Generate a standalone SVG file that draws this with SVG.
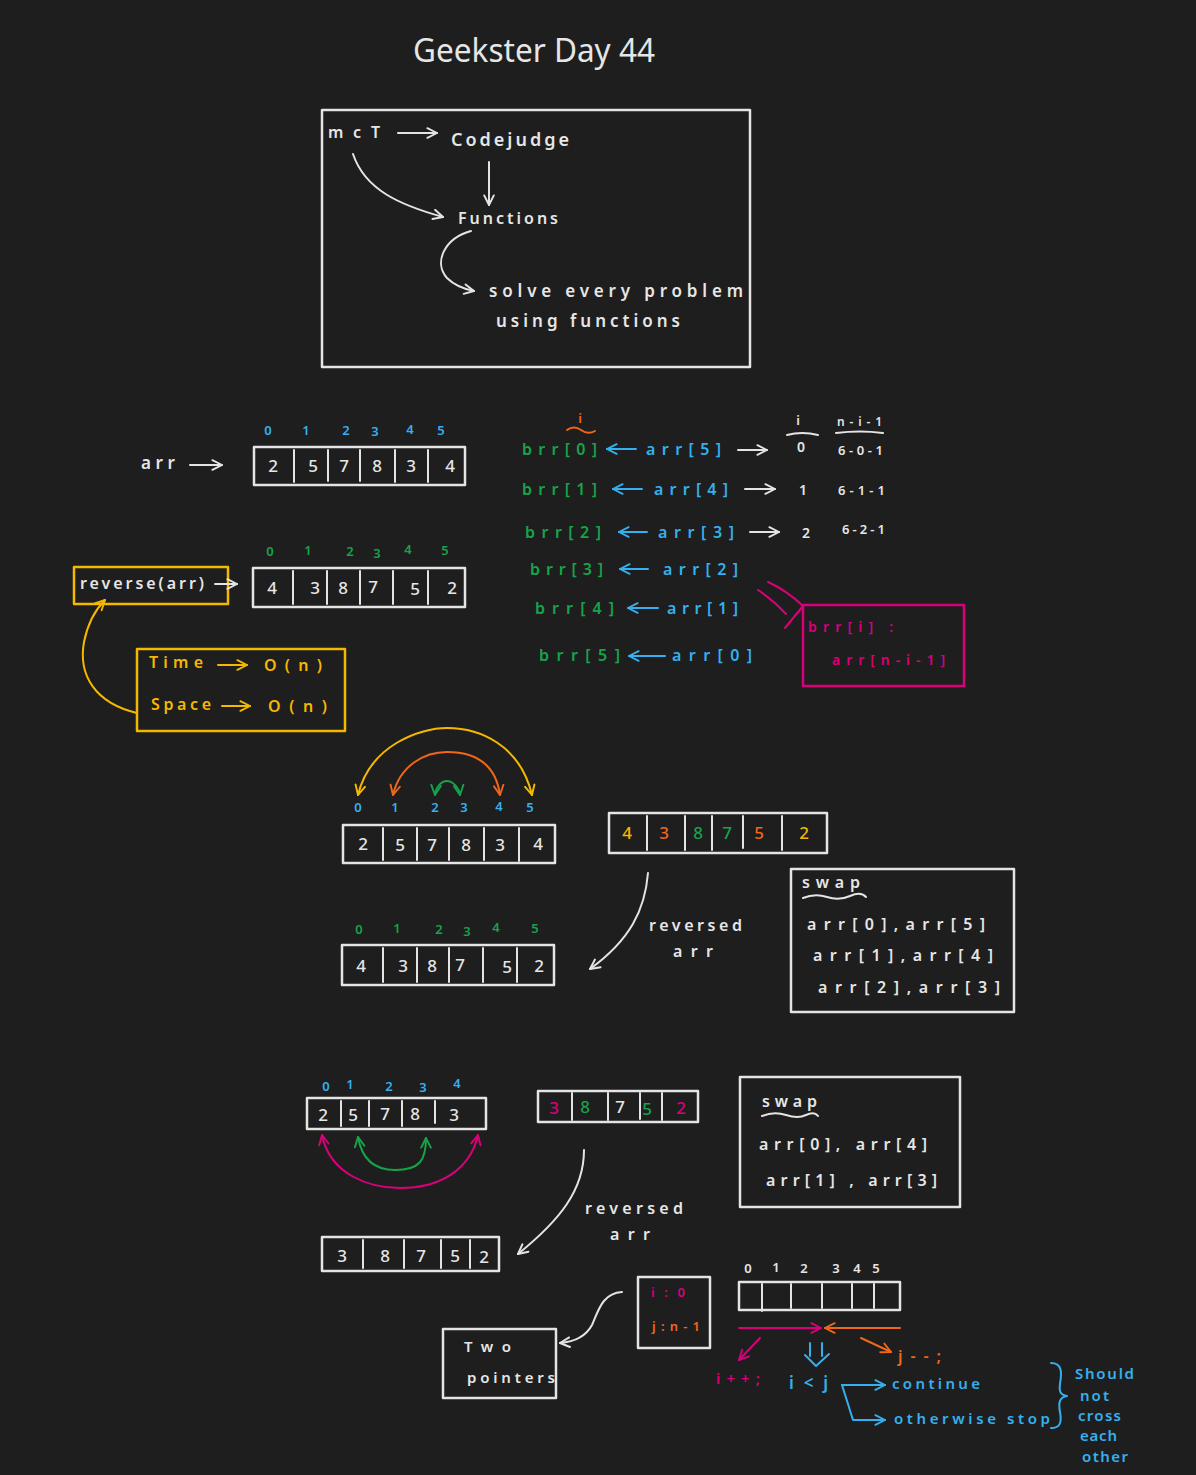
<svg xmlns="http://www.w3.org/2000/svg" width="1196" height="1475" viewBox="0 0 1196 1475">
<style>
  .bg{fill:#1e1e1e}
  .s{fill:none;stroke-width:2;stroke-linecap:round;stroke-linejoin:round}
  .sw{stroke:#e4e4e4}
  .sy{stroke:#f5b800}
  .so{stroke:#f0661a}
  .sg{stroke:#17a34a}
  .sb{stroke:#35b0ee}
  .sm{stroke:#d9007a}
  .box{stroke-width:2.5}
  text{font-family:"Noto Sans","Liberation Sans",sans-serif;font-size:16px;font-weight:600}
  .tw{fill:#e6e6e6}
  .ty{fill:#f5b800}
  .to{fill:#f0661a}
  .tg{fill:#17a34a}
  .tb{fill:#35b0ee}
  .tm{fill:#d9007a}
  .n{font-size:17px;text-anchor:middle;font-weight:500}
  .i{font-size:13px;text-anchor:middle}
  .aw{marker-end:url(#hw)}
  .ay{marker-end:url(#hy)}
  .ao{marker-end:url(#ho)}
  .ag{marker-end:url(#hg)}
  .ab{marker-end:url(#hb)}
  .am{marker-end:url(#hm)}
</style>
<defs>
  <marker id="hw" viewBox="0 0 10 10" refX="9" refY="5" markerWidth="12" markerHeight="12" markerUnits="userSpaceOnUse" orient="auto-start-reverse"><path d="M1,1 L9,5 L1,9" fill="none" stroke="#e4e4e4" stroke-width="1.6" stroke-linecap="round" stroke-linejoin="round"/></marker>
  <marker id="hy" viewBox="0 0 10 10" refX="9" refY="5" markerWidth="12" markerHeight="12" markerUnits="userSpaceOnUse" orient="auto-start-reverse"><path d="M1,1 L9,5 L1,9" fill="none" stroke="#f5b800" stroke-width="1.6" stroke-linecap="round" stroke-linejoin="round"/></marker>
  <marker id="ho" viewBox="0 0 10 10" refX="9" refY="5" markerWidth="12" markerHeight="12" markerUnits="userSpaceOnUse" orient="auto-start-reverse"><path d="M1,1 L9,5 L1,9" fill="none" stroke="#f0661a" stroke-width="1.6" stroke-linecap="round" stroke-linejoin="round"/></marker>
  <marker id="hg" viewBox="0 0 10 10" refX="9" refY="5" markerWidth="12" markerHeight="12" markerUnits="userSpaceOnUse" orient="auto-start-reverse"><path d="M1,1 L9,5 L1,9" fill="none" stroke="#17a34a" stroke-width="1.6" stroke-linecap="round" stroke-linejoin="round"/></marker>
  <marker id="hb" viewBox="0 0 10 10" refX="9" refY="5" markerWidth="12" markerHeight="12" markerUnits="userSpaceOnUse" orient="auto-start-reverse"><path d="M1,1 L9,5 L1,9" fill="none" stroke="#35b0ee" stroke-width="1.6" stroke-linecap="round" stroke-linejoin="round"/></marker>
  <marker id="hm" viewBox="0 0 10 10" refX="9" refY="5" markerWidth="12" markerHeight="12" markerUnits="userSpaceOnUse" orient="auto-start-reverse"><path d="M1,1 L9,5 L1,9" fill="none" stroke="#d9007a" stroke-width="1.6" stroke-linecap="round" stroke-linejoin="round"/></marker>
</defs>

<rect class="bg" x="0" y="0" width="1196" height="1475"/>

<!-- heading -->
<g id="title">
  <text class="tw" x="413" y="62" style="font-size:32px;font-weight:400" textLength="242" lengthAdjust="spacingAndGlyphs">Geekster Day 44</text>
</g>

<!-- overview box: MCT / Codejudge / functions -->
<g id="overview">
  <rect class="s sw box" x="322" y="110" width="428" height="257"/>
  <text class="tw" x="328" y="138" textLength="52">mcT</text>
  <text class="tw" x="451" y="146" style="font-size:18px" textLength="118">Codejudge</text>
  <text class="tw" x="458" y="224" textLength="100">Functions</text>
  <text class="tw" x="489" y="297" style="font-size:17px" textLength="254">solve every problem</text>
  <text class="tw" x="496" y="327" style="font-size:17px" textLength="184">using functions</text>
</g>

<!-- original array -->
<g id="arr-label">
  <text class="tw" x="141" y="469" style="font-size:17px" textLength="34">arr</text>
</g>
<g id="arr-original">
  <text class="tb i" x="268" y="435">0</text><text class="tb i" x="306" y="435">1</text><text class="tb i" x="346" y="435">2</text><text class="tb i" x="375" y="436">3</text><text class="tb i" x="410" y="434">4</text><text class="tb i" x="441" y="435">5</text>
  <rect class="s sw box" x="254" y="447" width="211" height="38"/>
  <path class="s sw" d="M294,450 V482 M328,450 V481 M360,450 V481 M395,450 V482 M428,450 V482"/>
  <text class="tw n" x="273" y="472">2</text><text class="tw n" x="313" y="472">5</text><text class="tw n" x="344" y="472">7</text><text class="tw n" x="377" y="472">8</text><text class="tw n" x="411" y="472">3</text><text class="tw n" x="450" y="472">4</text>
</g>

<!-- reverse(arr) call -->
<g id="reverse-call">
  <rect class="s sy box" x="74" y="567" width="154" height="37"/>
  <text class="tw" x="80" y="589" textLength="124">reverse(arr)</text>
</g>

<!-- reversed array with green indices -->
<g id="arr-reversed">
  <text class="tg i" x="270" y="556">0</text><text class="tg i" x="308" y="555">1</text><text class="tg i" x="350" y="556">2</text><text class="tg i" x="377" y="558">3</text><text class="tg i" x="408" y="554">4</text><text class="tg i" x="445" y="555">5</text>
  <rect class="s sw box" x="253" y="568" width="212" height="39"/>
  <path class="s sw" d="M293,571 V604 M327,571 V604 M360,571 V604 M393,571 V604 M428,571 V604"/>
  <text class="tw n" x="272" y="594">4</text><text class="tw n" x="315" y="594">3</text><text class="tw n" x="343" y="594">8</text><text class="tw n" x="373" y="593">7</text><text class="tw n" x="415" y="595">5</text><text class="tw n" x="452" y="594">2</text>
</g>

<!-- complexity -->
<g id="complexity">
  <rect class="s sy box" x="137" y="649" width="208" height="82"/>
  <text class="ty" x="149" y="668" textLength="54">Time</text>
  <text class="ty" x="264" y="671" textLength="58">O(n)</text>
  <text class="ty" x="151" y="710" textLength="60">Space</text>
  <text class="ty" x="268" y="712" textLength="59">O(n)</text>
</g>

<!-- brr[i] = arr[n-i-1] walkthrough -->
<g id="copy-steps">
  <text class="to" x="580" y="423" style="font-size:13px;text-anchor:middle">i</text>
  <path class="s so" d="M567,430 Q574,425 581,430 T595,431"/>
  <text class="tg" x="522" y="455" textLength="75">brr[0]</text>
  <text class="tb" x="646" y="455" textLength="75">arr[5]</text>
  <text class="tg" x="522" y="495" textLength="75">brr[1]</text>
  <text class="tb" x="654" y="495" textLength="74">arr[4]</text>
  <text class="tg" x="525" y="538" textLength="76">brr[2]</text>
  <text class="tb" x="658" y="538" textLength="76">arr[3]</text>
  <text class="tg" x="530" y="575" textLength="73">brr[3]</text>
  <text class="tb" x="663" y="575" textLength="75">arr[2]</text>
  <text class="tg" x="535" y="614" textLength="79">brr[4]</text>
  <text class="tb" x="667" y="614" textLength="71">arr[1]</text>
  <text class="tg" x="539" y="661" textLength="81">brr[5]</text>
  <text class="tb" x="672" y="661" textLength="80">arr[0]</text>
</g>

<!-- index table -->
<g id="index-table">
  <text class="tw" x="798" y="425" style="font-size:13px;text-anchor:middle">i</text>
  <path class="s sw" d="M787,435 Q802,431 818,435"/>
  <text class="tw" x="837" y="426" style="font-size:12px" textLength="45">n-i-1</text>
  <path class="s sw" d="M836,433 Q860,430 883,433"/>
  <text class="tw" x="801" y="452" style="font-size:14px;text-anchor:middle">0</text>
  <text class="tw" x="838" y="455" style="font-size:13px" textLength="45">6-0-1</text>
  <text class="tw" x="803" y="495" style="font-size:14px;text-anchor:middle">1</text>
  <text class="tw" x="838" y="495" style="font-size:13px" textLength="47">6-1-1</text>
  <text class="tw" x="806" y="538" style="font-size:14px;text-anchor:middle">2</text>
  <text class="tw" x="842" y="534" style="font-size:13px" textLength="43">6-2-1</text>
</g>

<!-- formula box -->
<g id="formula">
  <rect class="s sm box" x="803" y="605" width="161" height="81"/>
  <text class="tm" x="808" y="632" style="font-size:14px" textLength="85">brr[i] :</text>
  <text class="tm" x="832" y="665" style="font-size:14px" textLength="113">arr[n-i-1]</text>
</g>

<!-- swap-in-place, even length -->
<g id="swap-even-indices">
  <text class="tb i" x="358" y="812">0</text><text class="tb i" x="395" y="812">1</text><text class="tb i" x="435" y="812">2</text><text class="tb i" x="464" y="812">3</text><text class="tb i" x="499" y="811">4</text><text class="tb i" x="530" y="812">5</text>
</g>
<g id="swap-even-array">
  <rect class="s sw box" x="343" y="825" width="212" height="38"/>
  <path class="s sw" d="M383,828 V860 M417,828 V860 M449,828 V860 M484,828 V860 M519,828 V861"/>
  <text class="tw n" x="363" y="850">2</text><text class="tw n" x="400" y="851">5</text><text class="tw n" x="432" y="851">7</text><text class="tw n" x="466" y="851">8</text><text class="tw n" x="500" y="851">3</text><text class="tw n" x="538" y="850">4</text>
</g>
<g id="swap-even-result">
  <rect class="s sw box" x="609" y="813" width="218" height="40"/>
  <path class="s sw" d="M647,816 V850 M685,816 V850 M712,816 V850 M743,816 V848 M782,816 V850"/>
  <text class="ty n" x="627" y="839">4</text><text class="to n" x="664" y="839">3</text><text class="tg n" x="698" y="839">8</text><text class="tg n" x="727" y="839">7</text><text class="to n" x="759" y="839">5</text><text class="ty n" x="804" y="839">2</text>
</g>
<g id="reversed-label-1">
  <text class="tw" x="649" y="931" textLength="93">reversed</text>
  <text class="tw" x="673" y="957" textLength="40">arr</text>
</g>
<g id="swap-even-final">
  <text class="tg i" x="359" y="934">0</text><text class="tg i" x="397" y="933">1</text><text class="tg i" x="439" y="934">2</text><text class="tg i" x="467" y="936">3</text><text class="tg i" x="496" y="932">4</text><text class="tg i" x="535" y="933">5</text>
  <rect class="s sw box" x="342" y="945" width="212" height="40"/>
  <path class="s sw" d="M383,948 V982 M417,948 V982 M449,948 V982 M483,948 V982 M517,948 V982"/>
  <text class="tw n" x="361" y="972">4</text><text class="tw n" x="403" y="972">3</text><text class="tw n" x="432" y="972">8</text><text class="tw n" x="460" y="971">7</text><text class="tw n" x="507" y="973">5</text><text class="tw n" x="539" y="972">2</text>
</g>
<g id="swap-list-even">
  <rect class="s sw box" x="791" y="869" width="223" height="143"/>
  <text class="tw" x="802" y="888" textLength="58">swap</text>
  <path class="s sw" d="M803,898 Q815,893 827,897 T850,896 T866,897"/>
  <text class="tw" x="807" y="930" textLength="178">arr[0],arr[5]</text>
  <text class="tw" x="813" y="961" textLength="180">arr[1],arr[4]</text>
  <text class="tw" x="818" y="993" textLength="182">arr[2],arr[3]</text>
</g>

<!-- swap-in-place, odd length -->
<g id="swap-odd-array">
  <text class="tb i" x="326" y="1091">0</text><text class="tb i" x="350" y="1089">1</text><text class="tb i" x="389" y="1091">2</text><text class="tb i" x="423" y="1092">3</text><text class="tb i" x="457" y="1088">4</text>
  <rect class="s sw box" x="307" y="1098" width="179" height="31"/>
  <path class="s sw" d="M341,1101 V1126 M369,1101 V1126 M402,1101 V1126 M435,1101 V1123"/>
  <text class="tw n" x="323" y="1121">2</text><text class="tw n" x="353" y="1121">5</text><text class="tw n" x="385" y="1120">7</text><text class="tw n" x="415" y="1120">8</text><text class="tw n" x="454" y="1121">3</text>
</g>
<g id="swap-odd-result">
  <rect class="s sw box" x="538" y="1091" width="160" height="31"/>
  <path class="s sw" d="M572,1093 V1120 M608,1093 V1120 M640,1093 V1119 M662,1093 V1120"/>
  <text class="tm n" x="554" y="1114">3</text><text class="tg n" x="585" y="1113">8</text><text class="tw n" x="620" y="1113">7</text><text class="tg n" x="647" y="1115">5</text><text class="tm n" x="681" y="1114">2</text>
</g>
<g id="reversed-label-2">
  <text class="tw" x="585" y="1214" textLength="98">reversed</text>
  <text class="tw" x="610" y="1240" textLength="40">arr</text>
</g>
<g id="swap-odd-final">
  <rect class="s sw box" x="322" y="1237" width="177" height="34"/>
  <path class="s sw" d="M363,1240 V1268 M404,1240 V1268 M441,1240 V1268 M470,1240 V1268"/>
  <text class="tw n" x="342" y="1262">3</text><text class="tw n" x="385" y="1262">8</text><text class="tw n" x="421" y="1262">7</text><text class="tw n" x="455" y="1262">5</text><text class="tw n" x="484" y="1263">2</text>
</g>
<g id="swap-list-odd">
  <rect class="s sw box" x="740" y="1077" width="220" height="130"/>
  <text class="tw" x="762" y="1107" textLength="55">swap</text>
  <path class="s sw" d="M762,1116 Q774,1111 786,1115 T806,1115 T818,1116"/>
  <text class="tw" x="759" y="1150" textLength="168">arr[0], arr[4]</text>
  <text class="tw" x="766" y="1186" textLength="171">arr[1] , arr[3]</text>
</g>

<!-- two pointers -->
<g id="two-pointers">
  <rect class="s sw box" x="443" y="1329" width="113" height="69"/>
  <text class="tw" x="464" y="1352" style="font-size:15px" textLength="47">Two</text>
  <text class="tw" x="467" y="1383" style="font-size:15px" textLength="88">pointers</text>
</g>
<g id="pointer-init">
  <rect class="s sw box" x="638" y="1277" width="72" height="71"/>
  <text class="tm" x="651" y="1297" style="font-size:13px" textLength="34">i:0</text>
  <text class="to" x="652" y="1331" style="font-size:13px" textLength="48">j:n-1</text>
</g>
<g id="pointer-array">
  <text class="tw i" x="748" y="1273">0</text><text class="tw i" x="776" y="1272">1</text><text class="tw i" x="804" y="1273">2</text><text class="tw i" x="836" y="1273">3</text><text class="tw i" x="857" y="1273">4</text><text class="tw i" x="876" y="1273">5</text>
  <rect class="s sw box" x="739" y="1282" width="161" height="28"/>
  <path class="s sw" d="M762,1284 V1311 M791,1284 V1308 M822,1284 V1308 M852,1284 V1308 M874,1284 V1308"/>
</g>
<g id="pointer-rules">
  <text class="tm" x="716" y="1384" style="font-size:15px" textLength="44">i++;</text>
  <text class="tb" x="789" y="1389" style="font-size:17px" textLength="39">i&lt;j</text>
  <text class="to" x="898" y="1362" style="font-size:16px" textLength="43">j--;</text>
  <text class="tb" x="892" y="1389" style="font-size:15px" textLength="88">continue</text>
  <text class="tb" x="894" y="1424" style="font-size:15px" textLength="156">otherwise stop</text>
  <path class="s sb" d="M1051,1363 C1062,1363 1062,1372 1060,1384 C1059,1391 1060,1395 1067,1396 C1060,1397 1058,1402 1060,1412 C1062,1423 1060,1428 1051,1428"/>
  <text class="tb" x="1075" y="1379" style="font-size:15px" textLength="59">Should</text>
  <text class="tb" x="1080" y="1401" style="font-size:15px" textLength="29">not</text>
  <text class="tb" x="1078" y="1421" style="font-size:15px" textLength="43">cross</text>
  <text class="tb" x="1080" y="1441" style="font-size:15px" textLength="37">each</text>
  <text class="tb" x="1082" y="1462" style="font-size:15px" textLength="46">other</text>
</g>

<!-- connectors -->
<g id="connectors">
  <path class="s sw aw" d="M398,133 L437,133"/>
  <path class="s sw aw" d="M489,162 L489,205"/>
  <path class="s sw aw" d="M353,154 C365,190 400,205 443,217"/>
  <path class="s sw aw" d="M471,231 C445,238 433,262 447,278 C455,286 464,289 474,291"/>
  <path class="s sw aw" d="M190,465 L222,465"/>
  <path class="s sw aw" d="M215,584 L237,584"/>
  <path class="s sy ay" d="M137,713 C95,703 78,675 84,642 C88,622 95,610 105,600"/>
  <path class="s sy ay" d="M218,665 L247,665"/>
  <path class="s sy ay" d="M222,706 L250,706"/>
  <path class="s sb ab" d="M636,449 L607,449"/>
  <path class="s sb ab" d="M642,489 L613,489"/>
  <path class="s sb ab" d="M647,532 L619,532"/>
  <path class="s sb ab" d="M648,569 L620,569"/>
  <path class="s sb ab" d="M658,608 L628,608"/>
  <path class="s sb ab" d="M665,656 L629,656"/>
  <path class="s sw aw" d="M738,450 L767,450"/>
  <path class="s sw aw" d="M745,489 L775,489"/>
  <path class="s sw aw" d="M750,532 L779,532"/>
  <path class="s sm" d="M758,590 Q773,600 786,614"/>
  <path class="s sm" d="M768,582 Q786,590 803,606 L785,628"/>
  <path class="s sy" d="M358,795 C370,745 420,728 447,728 C480,728 520,745 532,795" marker-start="url(#hy)" marker-end="url(#hy)"/>
  <path class="s so" d="M393,795 C400,765 425,752 447,752 C470,752 495,760 500,795" marker-start="url(#ho)" marker-end="url(#ho)"/>
  <path class="s sg" d="M435,795 C436,786 442,781 447,781 C453,781 459,788 460,795" marker-start="url(#hg)" marker-end="url(#hg)"/>
  <path class="s sw aw" d="M648,873 C645,910 630,940 590,969"/>
  <path class="s sm" d="M322,1135 C330,1175 370,1188 400,1188 C440,1188 470,1170 478,1135" marker-start="url(#hm)" marker-end="url(#hm)"/>
  <path class="s sg" d="M358,1137 C362,1160 375,1170 395,1170 C420,1170 426,1160 426,1138" marker-start="url(#hg)" marker-end="url(#hg)"/>
  <path class="s sw aw" d="M584,1150 C584,1190 560,1220 518,1254"/>
  <path class="s sw aw" d="M622,1292 C602,1293 598,1312 592,1325 C585,1338 572,1342 560,1343"/>
  <path class="s sm am" d="M739,1328 L821,1328"/>
  <path class="s so ao" d="M900,1328 L825,1328"/>
  <path class="s sm am" d="M760,1338 L739,1360"/>
  <path class="s so ao" d="M861,1338 L891,1352"/>
  <path class="s sb" d="M810,1343 V1356 M822,1343 V1356 M805,1355 L816,1366 L829,1354"/>
  <path class="s sb ab" d="M842,1385 L885,1385"/>
  <path class="s sb ab" d="M842,1385 L853,1420 L885,1420"/>
</g>
</svg>
